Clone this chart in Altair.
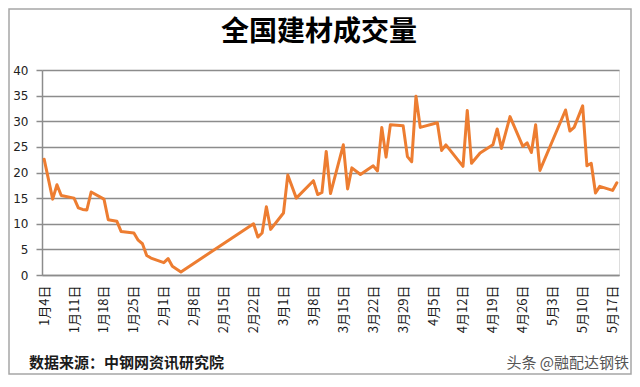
import altair as alt
import pandas as pd

# ---- data ----
dates = ["2021-01-04","2021-01-06","2021-01-07","2021-01-08","2021-01-11","2021-01-12","2021-01-13",
         "2021-01-14","2021-01-15","2021-01-18","2021-01-19","2021-01-21","2021-01-22","2021-01-25",
         "2021-01-26","2021-01-27","2021-01-28","2021-01-29","2021-02-01","2021-02-02","2021-02-03",
         "2021-02-05","2021-02-22","2021-02-23","2021-02-24","2021-02-25","2021-02-26","2021-03-01",
         "2021-03-02","2021-03-04","2021-03-08","2021-03-09","2021-03-10","2021-03-11","2021-03-12",
         "2021-03-15","2021-03-16","2021-03-17","2021-03-19","2021-03-22","2021-03-23","2021-03-24",
         "2021-03-25","2021-03-26","2021-03-29","2021-03-30","2021-03-31","2021-04-01","2021-04-02",
         "2021-04-06","2021-04-07","2021-04-08","2021-04-12","2021-04-13","2021-04-14","2021-04-16",
         "2021-04-19","2021-04-20","2021-04-21","2021-04-23","2021-04-26","2021-04-27","2021-04-28",
         "2021-04-29","2021-04-30","2021-05-06","2021-05-07","2021-05-08","2021-05-10","2021-05-11",
         "2021-05-12","2021-05-13","2021-05-14","2021-05-17","2021-05-18"]
volume = [22.6, 14.8, 17.6, 15.5, 15.0, 13.1, 12.8,
          12.7, 16.2, 14.8, 10.8, 10.5, 8.5, 8.2,
          6.8, 6.1, 3.8, 3.3, 2.4, 3.2, 1.7,
          0.6, 10.0, 7.4, 8.2, 13.3, 8.9, 12.1,
          19.5, 15.0, 18.4, 15.7, 16.1, 24.1, 15.9,
          25.4, 16.8, 20.9, 19.6, 21.3, 20.3, 28.8,
          23.0, 29.3, 29.1, 23.1, 22.1, 34.9, 28.8,
          29.7, 24.3, 25.4, 21.2, 32.1, 21.8, 23.8,
          25.4, 28.5, 24.7, 30.9, 25.1, 25.8, 23.9,
          29.3, 20.4, 32.2, 28.1, 28.8, 33.0, 21.3,
          21.8, 16.0, 17.3, 16.5, 18.0]

tick_dates = ["2021-01-04","2021-01-11","2021-01-18","2021-01-25","2021-02-01","2021-02-08",
              "2021-02-15","2021-02-22","2021-03-01","2021-03-08","2021-03-15","2021-03-22",
              "2021-03-29","2021-04-05","2021-04-12","2021-04-19","2021-04-26","2021-05-03",
              "2021-05-10","2021-05-17"]
y_ticks = [0, 5, 10, 15, 20, 25, 30, 35, 40]

title_text = ["全国建材成交量"]
source_text = ["数据来源：中钢网资讯研究院"]
watermark_text = ["头条 @融配达钢铁"]

df = pd.DataFrame({"date": dates, "volume": volume})


def dt(s, hours=0):
    y, m, d = (int(p) for p in s.split("-"))
    return alt.DateTime(year=y, month=m, date=d, hours=hours, utc=True)


tick_values = [dt(s) for s in tick_dates]
x_domain = [dt("2021-01-03", 12), dt("2021-05-18", 12)]

GRID = "#8c8c8c"
CJK = "Noto Sans CJK SC"

line = alt.Chart(df).mark_line(
    color="#ED7D31", strokeWidth=3, strokeJoin="round", strokeCap="round"
).encode(
    x=alt.X("date:T",
            scale=alt.Scale(type="utc", domain=x_domain),
            axis=alt.Axis(values=tick_values, format="%-m月%-d日", labelAngle=270,
                          ticks=False, labelPadding=10, grid=False,
                          domainColor=GRID, domainWidth=1.5,
                          labelFont=CJK, labelFontSize=13, labelColor="#1a1a1a",
                          labelOverlap=False, title=None)),
    y=alt.Y("volume:Q",
            scale=alt.Scale(domain=[0, 40], nice=False),
            axis=alt.Axis(values=y_ticks, grid=True, gridColor=GRID, gridWidth=1.5,
                          tickSize=6, tickColor=GRID, tickWidth=1.5,
                          domainColor=GRID, domainWidth=1.5,
                          labelPadding=8, labelFont="DejaVu Sans", labelFontSize=12,
                          labelColor="#222", title=None)),
)

title = alt.Chart(pd.DataFrame({"t": title_text})).mark_text(
    align="center", baseline="middle", font=CJK, fontSize=28, fontWeight="bold", color="#000000"
).encode(x=alt.value(277), y=alt.value(-37), text="t:N")

source = alt.Chart(pd.DataFrame({"t": source_text})).mark_text(
    align="left", baseline="middle", font=CJK, fontSize=15, fontWeight="bold", color="#1a1a1a"
).encode(x=alt.value(-13), y=alt.value(293), text="t:N")

watermark = alt.Chart(pd.DataFrame({"t": watermark_text})).mark_text(
    align="right", baseline="middle", font=CJK, fontSize=15, color="#555555"
).encode(x=alt.value(587), y=alt.value(293), text="t:N")

border = alt.Chart(pd.DataFrame({"t": ["frame"]})).mark_rect(
    fill="transparent", stroke="#a6a6a6", strokeWidth=1.5
).encode(x=alt.value(-33), x2=alt.value(589), y=alt.value(-61), y2=alt.value(304))

chart = alt.layer(border, line, title, source, watermark).properties(
    width=577,
    height=205,
    autosize=alt.AutoSizeParams(type="none"),
    padding={"left": 34, "top": 62, "right": 13, "bottom": 101},
).configure_view(strokeWidth=0).configure(background="white")

chart.save("out.html", embed_options={"renderer": "svg", "actions": False})
